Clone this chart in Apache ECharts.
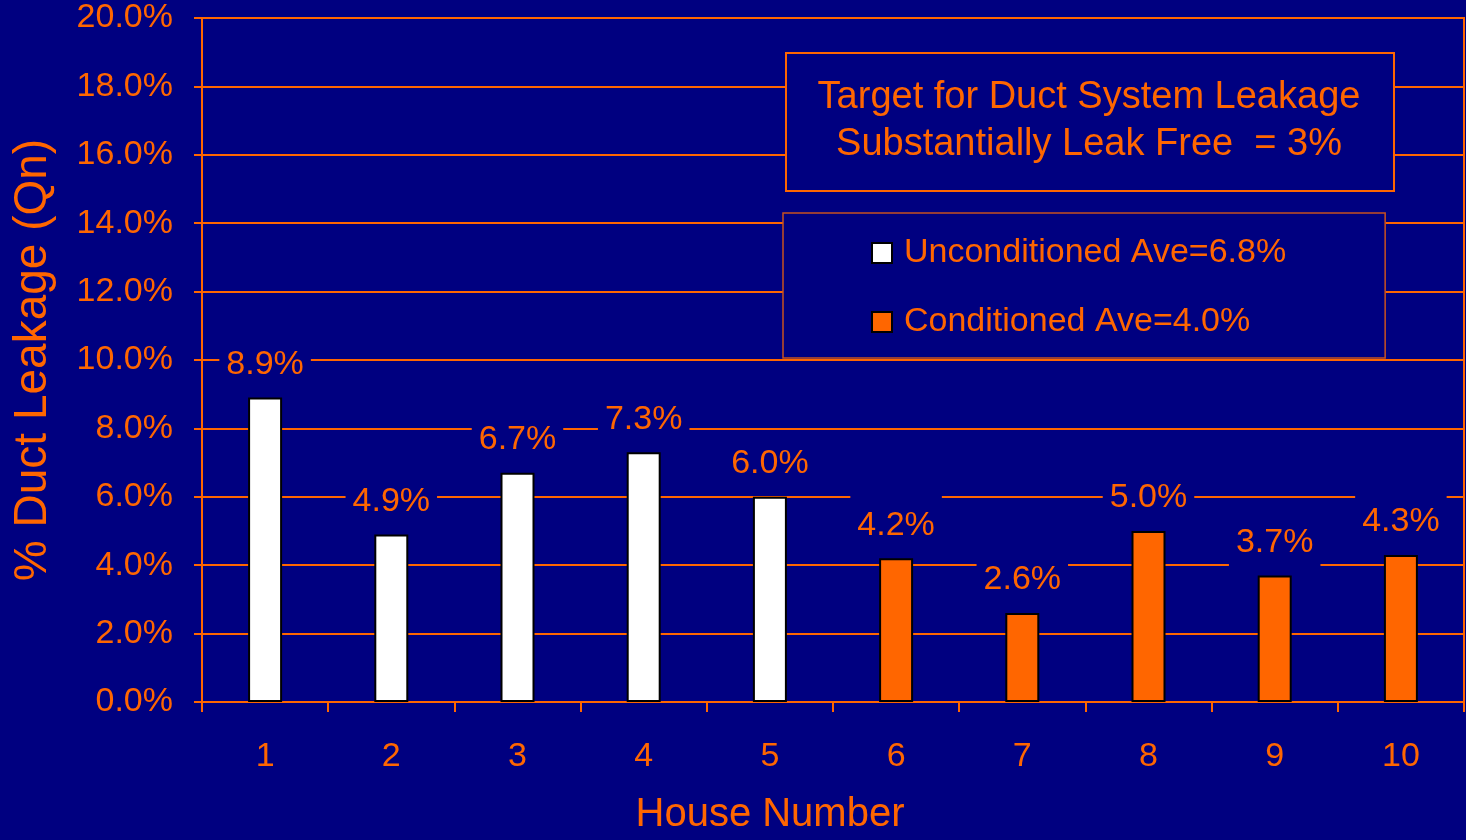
<!DOCTYPE html>
<html>
<head>
<meta charset="utf-8">
<title>Duct Leakage by House</title>
<script src="https://cdn.jsdelivr.net/npm/echarts@6/dist/echarts.min.js"></script>
<style>
  html, body { margin: 0; padding: 0; background: #000080; }
  #chart { width: 1466px; height: 840px; }
</style>
</head>
<body>
<div id="chart"></div>
<script>
// House numbers along the x axis
const houses = ['1', '2', '3', '4', '5', '6', '7', '8', '9', '10'];
// Duct leakage (% Qn) per house; '-' leaves the slot empty for the other group
const unconditioned = [8.9, 4.9, 6.7, 7.3, 6.0, '-', '-', '-', '-', '-'];
const conditioned = ['-', '-', '-', '-', '-', 4.2, 2.6, 5.0, 3.7, 4.3];
const seriesNames = ['Unconditioned Ave=6.8%', 'Conditioned Ave=4.0%'];
const targetText = ['Target for Duct System Leakage', 'Substantially Leak Free  = 3%'];
const yTitle = '% Duct Leakage (Qn)';
const xTitle = 'House Number';

const NAVY = '#000080';
const ORANGE = '#FF6600';
const FONT = '"Liberation Sans", Arial, sans-serif';

const chart = echarts.init(document.getElementById('chart'));

// Value labels sit on a navy box so they break the gridlines behind them
const barLabel = {
  show: true,
  position: 'top',
  distance: 3,
  color: ORANGE,
  fontFamily: FONT,
  fontSize: 34,
  lineHeight: 36,
  backgroundColor: NAVY,
  padding: [12, 7],
  formatter: p => Number(p.value).toFixed(1) + '%'
};

chart.setOption({
  backgroundColor: NAVY,
  animation: false,
  textStyle: { fontFamily: FONT },
  grid: {
    left: 202, right: 2, top: 18, bottom: 138,
    containLabel: false,
    outerBoundsMode: 'none',
    show: true,
    borderColor: ORANGE,
    borderWidth: 2,
    backgroundColor: 'transparent'
  },
  legend: {
    left: 783,
    top: 213,
    orient: 'vertical',
    data: seriesNames,
    icon: 'rect',
    itemWidth: 20,
    itemHeight: 20,
    itemGap: 33,
    padding: [22, 99, 18, 88],
    backgroundColor: NAVY,
    borderColor: '#C8521E',
    borderWidth: 1.5,
    selectedMode: false,
    textStyle: {
      color: ORANGE,
      fontFamily: FONT,
      fontSize: 34,
      lineHeight: 36,
      padding: [0, 0, 0, 7]
    },
    z: 10
  },
  xAxis: {
    type: 'category',
    data: houses,
    boundaryGap: true,
    name: xTitle,
    nameLocation: 'middle',
    nameGap: 93,
    nameTextStyle: { color: ORANGE, fontFamily: FONT, fontSize: 40, padding: [0, 126, 0, 0] },
    axisLine: { show: true, lineStyle: { color: ORANGE, width: 2 } },
    axisTick: { show: true, length: 10, lineStyle: { color: ORANGE, width: 2 } },
    axisLabel: { color: ORANGE, fontFamily: FONT, fontSize: 34, margin: 38 },
    splitLine: { show: false }
  },
  yAxis: {
    type: 'value',
    min: 0,
    max: 20,
    interval: 2,
    name: yTitle,
    nameLocation: 'middle',
    nameGap: 146,
    nameTextStyle: { color: ORANGE, fontFamily: FONT, fontSize: 46 },
    axisLine: { show: true, lineStyle: { color: ORANGE, width: 2 } },
    axisTick: { show: true, length: 8, lineStyle: { color: ORANGE, width: 2 } },
    axisLabel: {
      color: ORANGE, fontFamily: FONT, fontSize: 34, margin: 29,
      formatter: v => v.toFixed(1) + '%'
    },
    splitLine: { show: true, lineStyle: { color: ORANGE, width: 2 } }
  },
  series: [
    {
      name: seriesNames[0],
      type: 'bar',
      data: unconditioned,
      barWidth: 34,
      barGap: '-100%',
      itemStyle: { color: '#FFFFFF', borderColor: '#000000', borderWidth: 2 },
      label: barLabel,
      z: 3
    },
    {
      name: seriesNames[1],
      type: 'bar',
      data: conditioned,
      barWidth: 34,
      barGap: '-100%',
      itemStyle: { color: ORANGE, borderColor: '#000000', borderWidth: 2 },
      label: barLabel,
      z: 3
    }
  ],
  graphic: [
    {
      type: 'rect',
      left: 785,
      top: 52,
      z: 100,
      shape: { x: 0, y: 0, width: 608, height: 138 },
      style: { fill: NAVY, stroke: ORANGE, lineWidth: 2 }
    },
    {
      type: 'text',
      z: 101,
      x: 1089,
      y: 121,
      style: {
        text: targetText.join('\n'),
        fill: ORANGE,
        font: '38px ' + FONT,
        lineHeight: 47,
        align: 'center',
        verticalAlign: 'middle'
      }
    }
  ]
});
</script>
</body>
</html>
